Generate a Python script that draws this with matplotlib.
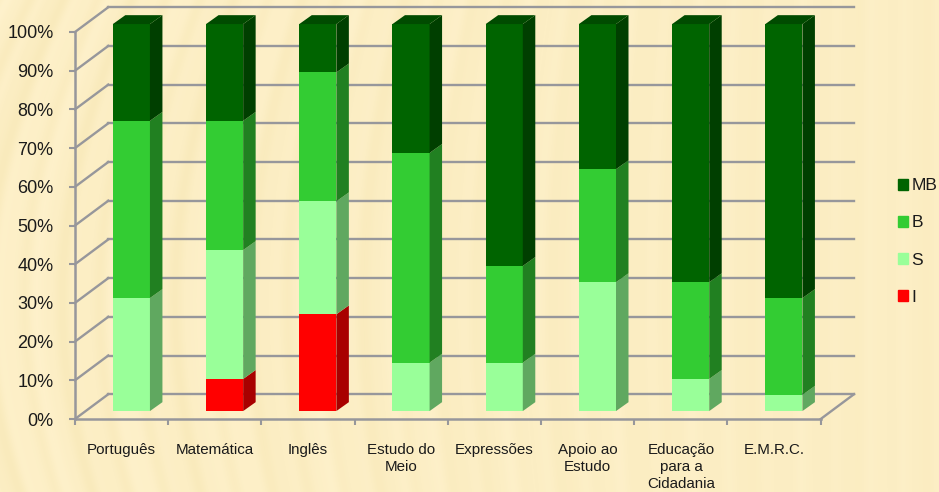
import numpy as np
import matplotlib
matplotlib.use('Agg')
import matplotlib.pyplot as plt
from matplotlib.patches import Polygon, Patch

subjects = ['Português', 'Matemática', 'Inglês', 'Estudo do\nMeio', 'Expressões',
            'Apoio ao\nEstudo', 'Educação\npara a\nCidadania', 'E.M.R.C.']
grade_i = [0, 8.3, 25, 0, 0, 0, 0, 0]
grade_s = [29.2, 33.3, 29.2, 12.5, 12.5, 33.3, 8.3, 4.2]
grade_b = [45.8, 33.4, 33.3, 54.2, 25, 29.2, 25, 25]
grade_mb = [25, 25, 12.5, 33.3, 62.5, 37.5, 66.7, 70.8]

series = [('I', grade_i, '#ff0000', '#a80000', '#c00000'),
          ('S', grade_s, '#99ff99', '#60a860', '#80d880'),
          ('B', grade_b, '#33cc33', '#218021', '#28a028'),
          ('MB', grade_mb, '#006400', '#003f00', '#004b00')]

W, H = 939, 492
GREY = '#97979b'

fig = plt.figure(figsize=(W / 100, H / 100), dpi=100)

# paper texture behind everything, streaks bend with height and fade to the right
bg = fig.add_axes([0, 0, 1, 1], zorder=0)
yy, xx = np.mgrid[0:H, 0:W]
fade = np.clip(1 - xx / 800, 0.02, 1)
phase = xx + fade * (300 * yy - yy ** 2 / 2) / 600
tex = 0.5 * np.sin(phase / 5.5) + 0.3 * np.sin(phase / 14.0 + 1) + 0.2 * np.sin(phase / 2.7)
strength = 0.35 + 0.65 * fade
base = np.array([252, 238, 196]) / 255
amp = np.array([3, 4, 9]) / 255
img = base[None, None, :] + (tex * strength)[:, :, None] * amp[None, None, :]
bg.imshow(np.clip(img, 0, 1), aspect='auto', interpolation='bilinear')
bg.axis('off')

# axes box is the front plane of the 3d box
x0, x1, y0, y1 = 75, 820.7, 419, 32
ax = fig.add_axes([x0 / W, 1 - y0 / H, (x1 - x0) / W, (y0 - y1) / H], zorder=1)
ax.patch.set_alpha(0)
ax.set_xlim(0, 8)
ax.set_ylim(0, 100)

wall_dx, wall_dy = 0.357, 6.4   # back wall offset in data units
bar_dx, bar_dy = 0.134, 2.3     # bar depth
off_x, off_y = 0.105, 2.05      # bar front face offset from front plane
bar_w = 0.398

for s in ['top', 'right']:
    ax.spines[s].set_visible(False)
for s in ['left', 'bottom']:
    ax.spines[s].set_color(GREY)
    ax.spines[s].set_linewidth(1.8)

ax.set_yticks(np.arange(0, 101, 10))
ax.set_yticklabels([f'{v}%' for v in range(0, 101, 10)], fontsize=13,
                   family='Liberation Sans', color='#1a1a1a')
ax.tick_params(axis='y', length=4, width=1.5, color=GREY, pad=11.5)
ax.set_xticks(np.arange(0, 9))
ax.set_xticklabels([])
ax.tick_params(axis='x', length=4, width=1.5, color=GREY)
ax.set_xticks(np.arange(8) + 0.5, subjects, minor=True, fontsize=10.9, family='Liberation Sans',
              color='#1a1a1a', linespacing=1.3, va='top')
ax.tick_params(axis='x', which='minor', length=0, pad=17)

# back wall and floor lines
for v in range(0, 101, 10):
    ax.plot([wall_dx, 8 + wall_dx], [v + wall_dy] * 2, color=GREY, lw=1.7, clip_on=False, zorder=1)
    ax.plot([0, wall_dx], [v, v + wall_dy], color=GREY, lw=1.7, clip_on=False, zorder=1)
ax.plot([8, 8 + wall_dx], [0, wall_dy], color=GREY, lw=1.7, clip_on=False, zorder=1)

# stacked bars, front face through ax.bar, side and top as polygons
for i in range(len(subjects)):
    left = i + off_x + 0.5 - bar_w / 2
    right = left + bar_w
    bottom = 0
    last_top = None
    for label, values, face, side, top in series:
        v = values[i]
        if v == 0:
            continue
        b0, b1 = bottom + off_y, bottom + v + off_y
        ax.bar(left, v, width=bar_w, bottom=b0, align='edge', color=face, linewidth=0,
               clip_on=False, zorder=3)
        ax.add_patch(Polygon([(right, b0), (right + bar_dx, b0 + bar_dy),
                              (right + bar_dx, b1 + bar_dy), (right, b1)],
                             closed=True, fc=side, ec='none', clip_on=False, zorder=3))
        bottom += v
        last_top = (b1, top)
    b1, top = last_top
    ax.add_patch(Polygon([(left, b1), (left + bar_dx, b1 + bar_dy),
                          (right + bar_dx, b1 + bar_dy), (right, b1)],
                         closed=True, fc=top, ec='none', clip_on=False, zorder=3))

handles = [Patch(color=s[2], label=s[0]) for s in reversed(series)]
fig.legend(handles=handles, loc='center left', bbox_to_anchor=(882 / W, 1 - 241.5 / H), frameon=False,
           prop={'family': 'Liberation Sans', 'size': 12.5}, handlelength=0.6,
           handleheight=0.6, handletextpad=0.2, labelspacing=1.27, labelcolor='#1a1a1a')

fig.savefig('out.png', dpi=100)
